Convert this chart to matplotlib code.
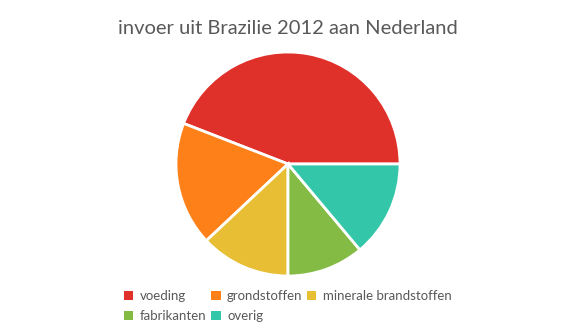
import matplotlib
matplotlib.use("Agg")
from matplotlib import pyplot as plt
from matplotlib.patches import Patch

# data
categories = ['voeding', 'grondstoffen', 'minerale brandstoffen', 'fabrikanten', 'overig']
values = [44.1, 17.9, 13.0, 11.1, 13.9]
colors = ['#E0302A', '#FD8019', '#E8BE35', '#84BB45', '#33C6A8']

plt.rcParams['font.family'] = ['Lato', 'DejaVu Sans']

fig = plt.figure(figsize=(5.76, 3.36), dpi=100)
fig.patch.set_facecolor('white')

# pie axes, centred around (288, 164) px with r = 112 px
cx, cy, r = 288, 336 - 164, 112
ax = fig.add_axes([(cx - r) / 576, (cy - r) / 336, 2 * r / 576, 2 * r / 336])
ax.pie(values, colors=colors, startangle=0, counterclock=True, radius=1,
       wedgeprops=dict(edgecolor='white', linewidth=2))
ax.set_xlim(-1.0, 1.0)
ax.set_ylim(-1.0, 1.0)
ax.set_aspect('equal')
ax.axis('off')

fig.text(0.5, 1 - 28 / 336, 'invoer uit Brazilie 2012 aan Nederland',
         ha='center', va='center', fontsize=14.5, color='#595959')

# legend fills columns first, so reorder to get row-wise layout
order = [0, 3, 1, 4, 2]
handles = [Patch(facecolor=colors[i], edgecolor='none') for i in order]
labels = [categories[i] for i in order]
fig.legend(handles, labels, loc='center', bbox_to_anchor=(0.5, 1 - 306 / 336),
           ncol=3, frameon=False, fontsize=9.5, labelcolor='#595959',
           handlelength=0.7, handleheight=0.7, handletextpad=0.5,
           columnspacing=0.35, labelspacing=0.6)

fig.savefig('out.png', dpi=100, facecolor='white')
